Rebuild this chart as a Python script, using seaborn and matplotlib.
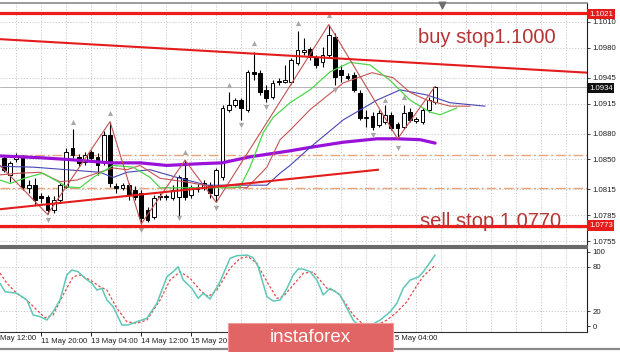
import matplotlib
matplotlib.use("Agg")
import matplotlib.pyplot as plt
from matplotlib.patches import Rectangle
from matplotlib.lines import Line2D
import seaborn as sns

sns.set_style("white")
plt.rcParams['font.family'] = ['Liberation Sans', 'DejaVu Sans']

# H4 candles (index 0 = first visible candle)
opens = [1.0852, 1.0832, 1.0850, 1.0853, 1.0817, 1.0820, 1.0807, 1.0806, 1.0791, 1.0803,
         1.0818, 1.0863, 1.0853, 1.0847, 1.0859, 1.0853, 1.0847, 1.0878, 1.0819, 1.0817,
         1.0820, 1.0814, 1.0811, 1.0791, 1.0783, 1.0806, 1.0806, 1.0805, 1.0806, 1.0828,
         1.0809, 1.0816, 1.0817, 1.0820, 1.0809, 1.0830, 1.0908, 1.0913, 1.0919, 1.0908,
         1.0952, 1.0951, 1.0931, 1.0923, 1.0940, 1.0940, 1.0940, 1.0962, 1.0975, 1.0979,
         1.0969, 1.0963, 1.0972, 1.0993, 1.0954, 1.0947, 1.0948, 1.0927, 1.0898, 1.0901,
         1.0890, 1.0894, 1.0902, 1.0891, 1.0888, 1.0905, 1.0895, 1.0894, 1.0908, 1.0917]
highs = [1.0855, 1.0848, 1.0857, 1.0855, 1.0826, 1.0828, 1.0811, 1.0808, 1.0807, 1.0822,
         1.0863, 1.0885, 1.0856, 1.0859, 1.0861, 1.0857, 1.0883, 1.0894, 1.0823, 1.0823,
         1.0823, 1.0819, 1.0814, 1.0795, 1.0809, 1.0811, 1.0810, 1.0820, 1.0832, 1.0849,
         1.0820, 1.0821, 1.0826, 1.0824, 1.0840, 1.0913, 1.0928, 1.0922, 1.0922, 1.0954,
         1.0975, 1.0954, 1.0937, 1.0942, 1.0945, 1.0960, 1.0968, 1.0999, 1.0991, 1.0981,
         1.0972, 1.0981, 1.1007, 1.0997, 1.0960, 1.0951, 1.0952, 1.0931, 1.0908, 1.0905,
         1.0908, 1.0913, 1.0905, 1.0894, 1.0913, 1.0910, 1.0899, 1.0910, 1.0923, 1.0935]
lows = [1.0835, 1.0824, 1.0847, 1.0814, 1.0811, 1.0797, 1.0799, 1.0786, 1.0788, 1.0800,
        1.0817, 1.0852, 1.0842, 1.0844, 1.0847, 1.0832, 1.0844, 1.0818, 1.0811, 1.0814,
        1.0803, 1.0803, 1.0775, 1.0777, 1.0781, 1.0803, 1.0803, 1.0803, 1.0783, 1.0803,
        1.0805, 1.0812, 1.0814, 1.0805, 1.0800, 1.0826, 1.0905, 1.0911, 1.0896, 1.0905,
        1.0942, 1.0925, 1.0917, 1.0920, 1.0937, 1.0939, 1.0938, 1.0960, 1.0972, 1.0966,
        1.0956, 1.0958, 1.0969, 1.0937, 1.0940, 1.0943, 1.0929, 1.0896, 1.0888, 1.0884,
        1.0888, 1.0891, 1.0884, 1.0874, 1.0885, 1.0894, 1.0892, 1.0891, 1.0905, 1.0915]
closes = [1.0838, 1.0846, 1.0853, 1.0818, 1.0820, 1.0803, 1.0805, 1.0791, 1.0803, 1.0820,
          1.0859, 1.0855, 1.0846, 1.0855, 1.0852, 1.0844, 1.0878, 1.0823, 1.0817, 1.0820,
          1.0809, 1.0806, 1.0782, 1.0779, 1.0805, 1.0807, 1.0807, 1.0814, 1.0830, 1.0806,
          1.0818, 1.0818, 1.0823, 1.0811, 1.0838, 1.0910, 1.0913, 1.0919, 1.0910, 1.0952,
          1.0949, 1.0928, 1.0922, 1.0939, 1.0941, 1.0942, 1.0966, 1.0977, 1.0977, 1.0969,
          1.0960, 1.0972, 1.0995, 1.0946, 1.0948, 1.0945, 1.0931, 1.0898, 1.0899, 1.0888,
          1.0904, 1.0902, 1.0887, 1.0887, 1.0904, 1.0896, 1.0897, 1.0908, 1.0919, 1.0934]

# Alligator lines (shifted forward) and the long MA
jaw_x = [-0.6, 4.7, 10.1, 15.4, 17.5, 19.7, 23.4, 28.2, 32.5, 42.1, 44.2, 45.8, 49.0, 54.3, 59.7, 63.4, 67.7, 71.4, 77.0]
jaw_y = [1.0842, 1.0841, 1.0838, 1.0835, 1.0829, 1.0835, 1.0838, 1.0828, 1.0820, 1.0820, 1.0834, 1.0843, 1.0864,
         1.0896, 1.0919, 1.0931, 1.0925, 1.0916, 1.0912]
teeth_x = [-0.6, 2.6, 5.8, 9.0, 11.7, 14.9, 17.5, 19.7, 21.8, 25.0, 29.0, 33.5, 38.9, 42.1, 44.2, 45.8, 49.0, 54.3,
           58.9, 62.3, 65.0, 67.7, 71.4, 74.6]
teeth_y = [1.0832, 1.0834, 1.0835, 1.0824, 1.0826, 1.0834, 1.0840, 1.0838, 1.0843, 1.0828, 1.0824, 1.0818, 1.0817,
           1.0841, 1.0873, 1.0884, 1.0908, 1.0939, 1.0951, 1.0945, 1.0928, 1.0919, 1.0912, 1.0912]
lips_x = [-0.6, 1.0, 3.7, 6.3, 10.1, 12.2, 14.3, 17.5, 20.7, 23.4, 25.0, 29.8, 35.1, 37.8, 39.4, 41.5, 43.1, 45.8,
          49.0, 52.2, 55.4, 58.6, 61.8, 65.0, 68.2, 69.8, 72.5]
lips_y = [1.0826, 1.0822, 1.0829, 1.0834, 1.0818, 1.0817, 1.0829, 1.0843, 1.0841, 1.0829, 1.0817, 1.0817, 1.0817,
          1.0818, 1.0841, 1.0881, 1.0899, 1.0916, 1.0931, 1.0952, 1.0963, 1.0960, 1.0942, 1.0919, 1.0905, 1.0902,
          1.0910]
ma_x = [-0.6, 5.8, 10.1, 17.0, 21.8, 26.1, 31.4, 34.9, 39.4, 45.8, 49.0, 54.3, 59.7, 62.9, 66.6, 69.0]
ma_y = [1.0854, 1.0852, 1.0850, 1.0846, 1.0846, 1.0843, 1.0845, 1.0846, 1.0853, 1.0860, 1.0864, 1.0870, 1.0874,
        1.0874, 1.0873, 1.0869]

zz_x = [-0.6, 7, 17, 22, 29, 34, 52, 63, 69]
zz_y = [1.0843, 1.0786, 1.0894, 1.0775, 1.0849, 1.0800, 1.1007, 1.0874, 1.0935]

up_frac_x = [11, 17, 29, 36, 40, 47, 52, 61, 64]
up_frac_y = [1.0894, 1.0904, 1.0859, 1.0937, 1.0986, 1.1009, 1.1018, 1.0919, 1.0923]
dn_frac_x = [7, 22, 28, 34, 38, 42, 53, 59, 63]
dn_frac_y = [1.0779, 1.0768, 1.0782, 1.0793, 1.0890, 1.0911, 1.0931, 1.0878, 1.0863]

trend_hi_x = [-0.6, 93.3]
trend_hi_y = [1.0990, 1.0951]
trend_lo_x = [-0.6, 59.9]
trend_lo_y = [1.0792, 1.0838]

buy_level = 1.1021
sell_level = 1.0773
bid = 1.0934
dash_levels = [1.0855, 1.0817]
green_level = 1.0771
price_ticks = [1.1010, 1.0980, 1.0945, 1.0915, 1.0880, 1.0850, 1.0815, 1.0785, 1.0755]

# stochastic
k_x = [-0.6, 0.2, 2.1, 3.7, 4.7, 5.8, 6.9, 7.9, 9.0, 10.1, 10.9, 11.9, 13.0, 14.1, 14.9, 15.7, 16.5, 17.5, 18.9,
       19.9, 21.3, 22.9, 24.5, 26.1, 27.1, 27.9, 28.7, 30.1, 31.1, 31.9, 33.0, 34.6, 36.2, 37.3, 38.9, 39.9, 40.7,
       42.1, 43.1, 44.2, 45.3, 46.3, 47.1, 47.9, 49.0, 50.1, 51.1, 52.2, 53.8, 54.9, 55.9, 56.7, 58.5, 60.2, 61.8,
       62.9, 63.9, 65.0, 66.3, 67.1, 68.2, 69.0]
k_y = [57.7, 46.4, 44.2, 35.1, 14.9, 12.6, 8.1, 19.3, 35.1, 68.9, 75.7, 73.4, 64.5, 57.7, 48.6, 50.9, 35.1, 26.1,
       1.4, 1.4, 5.8, 10.4, 30.7, 66.6, 73.4, 80.1, 62.2, 50.9, 37.4, 44.2, 36.5, 59.9, 91.5, 95.0, 95.9, 92.3, 80.1,
       39.6, 33.8, 35.1, 50.9, 68.9, 77.0, 77.0, 73.4, 62.0, 42.0, 51.0, 42.0, 24.0, 8.0, 1.0, 0.0, 8.0, 19.0, 31.0,
       51.0, 62.0, 66.0, 73.0, 86.0, 96.0]
d_x = [-0.6, 0.5, 2.1, 3.7, 5.3, 6.6, 7.9, 9.5, 11.1, 12.2, 13.8, 15.4, 16.5, 18.1, 19.7, 21.3, 22.9, 25.0, 26.6,
       28.2, 29.8, 31.4, 32.7, 34.1, 36.2, 37.8, 39.1, 40.5, 42.1, 43.7, 44.7, 46.3, 47.9, 49.5, 51.7, 53.3, 54.3,
       55.9, 57.3, 59.7, 61.3, 62.9, 64.5, 66.1, 67.1, 68.2, 69.0]
d_y = [71.5, 57.7, 44.0, 35.0, 21.6, 11.2, 14.9, 41.9, 66.6, 68.9, 62.2, 53.1, 48.6, 23.9, 5.8, 3.6, 8.1, 35.0, 62.0,
       73.4, 64.5, 48.6, 39.6, 48.6, 78.0, 91.5, 93.6, 84.7, 59.9, 37.4, 39.6, 55.4, 71.2, 73.0, 51.0, 46.0, 35.0,
       15.0, 3.6, 1.4, 8.0, 19.0, 33.0, 55.0, 67.0, 76.0, 82.0]

# time axis: ticks every 8 candles; only the parts not under the banner are readable
time_ticks = [6, 14, 22, 30, 38, 46, 54, 62]
time_labels = ["11 May 20:00", "13 May 04:00", "14 May 12:00", "15 May 20", "", "", "", ""]
first_label = "May 12:00"
last_label = "5 May 04:00"


def fx(px):
    return px / 620


def fy(py):
    return 1 - py / 352


fig = plt.figure(figsize=(6.2, 3.52), dpi=100)
ax = fig.add_axes([0, fy(246), fx(587), (246 - 3) / 352])
ax2 = fig.add_axes([0, fy(332), fx(587), (332 - 248) / 352])

xlim = (-0.6, 93.3)
grid_style = dict(color='#c4c4c4', lw=0.6, ls=(0, (1.5, 2)), zorder=0)
for a in (ax, ax2):
    a.set_xlim(*xlim)
    for gx in range(2, 94, 4):
        a.axvline(gx, **grid_style)
    a.spines['left'].set_visible(False)
    a.spines['right'].set_color('#202020')
    a.spines['right'].set_linewidth(0.8)

ax.set_ylim(1.07492, 1.10321)
for p in price_ticks:
    ax.axhline(p, **grid_style)

# levels
ax.axhline(bid, color='#b4b4b4', lw=0.7, zorder=1)
for lv in dash_levels:
    ax.axhline(lv, color='#e9a47c', lw=1.0, ls=(0, (7, 2, 1.5, 2)), zorder=1)
ax.axhline(green_level, color='#a2ad6c', lw=1.0, ls=(0, (7, 2, 1.5, 2)), zorder=1)

# candles
idx = list(range(len(opens)))
ax.vlines(idx, lows, highs, color='black', lw=0.8, zorder=3)
for i in idx:
    o, c = opens[i], closes[i]
    h = max(abs(c - o), 0.00008)
    ax.bar(i, h, bottom=min(o, c), width=0.6, color='white' if c >= o else 'black',
           edgecolor='black', linewidth=0.7, zorder=3)

# indicators
line_kw = dict(ax=ax, legend=False, sort=False, estimator=None, zorder=4)
sns.lineplot(x=ma_x, y=ma_y, color='#9a12d8', linewidth=2.3, **line_kw)
sns.lineplot(x=jaw_x, y=jaw_y, color='#4646b4', linewidth=0.8, **line_kw)
sns.lineplot(x=teeth_x, y=teeth_y, color='#c85454', linewidth=0.8, **line_kw)
sns.lineplot(x=lips_x, y=lips_y, color='#4cd64c', linewidth=0.9, **line_kw)
sns.lineplot(x=zz_x, y=zz_y, color='#c25050', linewidth=0.8, **line_kw)
sns.lineplot(x=trend_hi_x, y=trend_hi_y, color='#e41c1c', linewidth=1.5, **line_kw)
sns.lineplot(x=trend_lo_x, y=trend_lo_y, color='#e41c1c', linewidth=1.5, **line_kw)
sns.scatterplot(x=up_frac_x, y=up_frac_y, marker='^', s=14, color='#a8a8a8', linewidth=0, ax=ax, zorder=5)
sns.scatterplot(x=dn_frac_x, y=dn_frac_y, marker='v', s=14, color='#a8a8a8', linewidth=0, ax=ax, zorder=5)

ax.axhline(buy_level, color='#ee1c1c', lw=2.3, zorder=5)
ax.axhline(sell_level, color='#ee1c1c', lw=2.3, zorder=5)

ax.text(66.3, 1.09855, 'buy stop1.1000', color='#b83434', fontsize=14.5, va='baseline', ha='left', zorder=6)
ax.text(66.6, 1.0771, 'sell stop 1.0770', color='#b83434', fontsize=14.5, va='baseline', ha='left', zorder=6)
ax.scatter([70.1], [1.10300], marker='v', s=22, color='#6e6e6e', clip_on=False, zorder=6)

ax.yaxis.tick_right()
ax.set_yticks(price_ticks)
ax.set_yticklabels([f"{p:.4f}" for p in price_ticks])
ax.tick_params(axis='y', right=True, left=False, length=2.5, width=0.6, pad=1.5, labelsize=5.6,
               colors='#202020')
ax.tick_params(axis='x', bottom=False, labelbottom=False)
ax.spines['top'].set_color('#8a8a8a')
ax.spines['top'].set_linewidth(1.2)
ax.spines['bottom'].set_color('#6a6a6a')
ax.spines['bottom'].set_linewidth(1.5)
ax.set_xlabel('')
ax.set_ylabel('')

# stochastic panel
ax2.set_ylim(-8.1, 105.4)
for lv in (20, 80):
    ax2.axhline(lv, **grid_style)
sns.lineplot(x=d_x, y=d_y, ax=ax2, color='#e04a4a', linewidth=0.9, linestyle=(0, (2, 1.6)),
             legend=False, sort=False, estimator=None)
sns.lineplot(x=k_x, y=k_y, ax=ax2, color='#5ec8b6', linewidth=1.1, legend=False, sort=False, estimator=None)
ax2.yaxis.tick_right()
ax2.set_yticks([100, 80, 20, 0])
ax2.tick_params(axis='y', right=True, left=False, length=2.5, width=0.6, pad=1.5, labelsize=5.6,
                colors='#202020')
ax2.set_xticks(time_ticks)
ax2.set_xticklabels(time_labels)
for lab in ax2.get_xticklabels():
    lab.set_ha('left')
ax2.tick_params(axis='x', bottom=True, length=3, width=0.7, pad=1.5, labelsize=5.6, colors='#202020')
ax2.spines['top'].set_color('#6a6a6a')
ax2.spines['top'].set_linewidth(1.5)
ax2.spines['bottom'].set_color('#303030')
ax2.spines['bottom'].set_linewidth(0.8)
ax2.set_xlabel('')
ax2.set_ylabel('')
fig.text(fx(0), fy(338.5), first_label, fontsize=5.6, color='#202020', ha='left', va='center')
fig.text(fx(395), fy(338.5), last_label, fontsize=5.6, color='#202020', ha='left', va='center')

# price tags on the right scale
for txt, py, col in (("1.1021", 14, '#e41c1c'), ("1.0934", 88, '#111111'), ("1.0773", 225.5, '#e41c1c')):
    fig.text(fx(589), fy(py), txt, fontsize=5.6, color='white', ha='left', va='center',
             bbox=dict(boxstyle='square,pad=0.22', fc=col, ec='none'))

# window bottom edge and watermark banner
fig.add_artist(Line2D([0, 1], [fy(348.5), fy(348.5)], color='#8a8a8a', lw=1.6))
fig.add_artist(Rectangle((fx(228), fy(352)), fx(393 - 228), (352 - 323) / 352, fc='#e16564',
                         ec='#f09a9a', lw=0.8, zorder=10))
fig.text(fx(310), fy(337), 'instaforex', fontsize=13.5, color='white', ha='center', va='center', zorder=11)

fig.savefig('out.png', dpi=100)
